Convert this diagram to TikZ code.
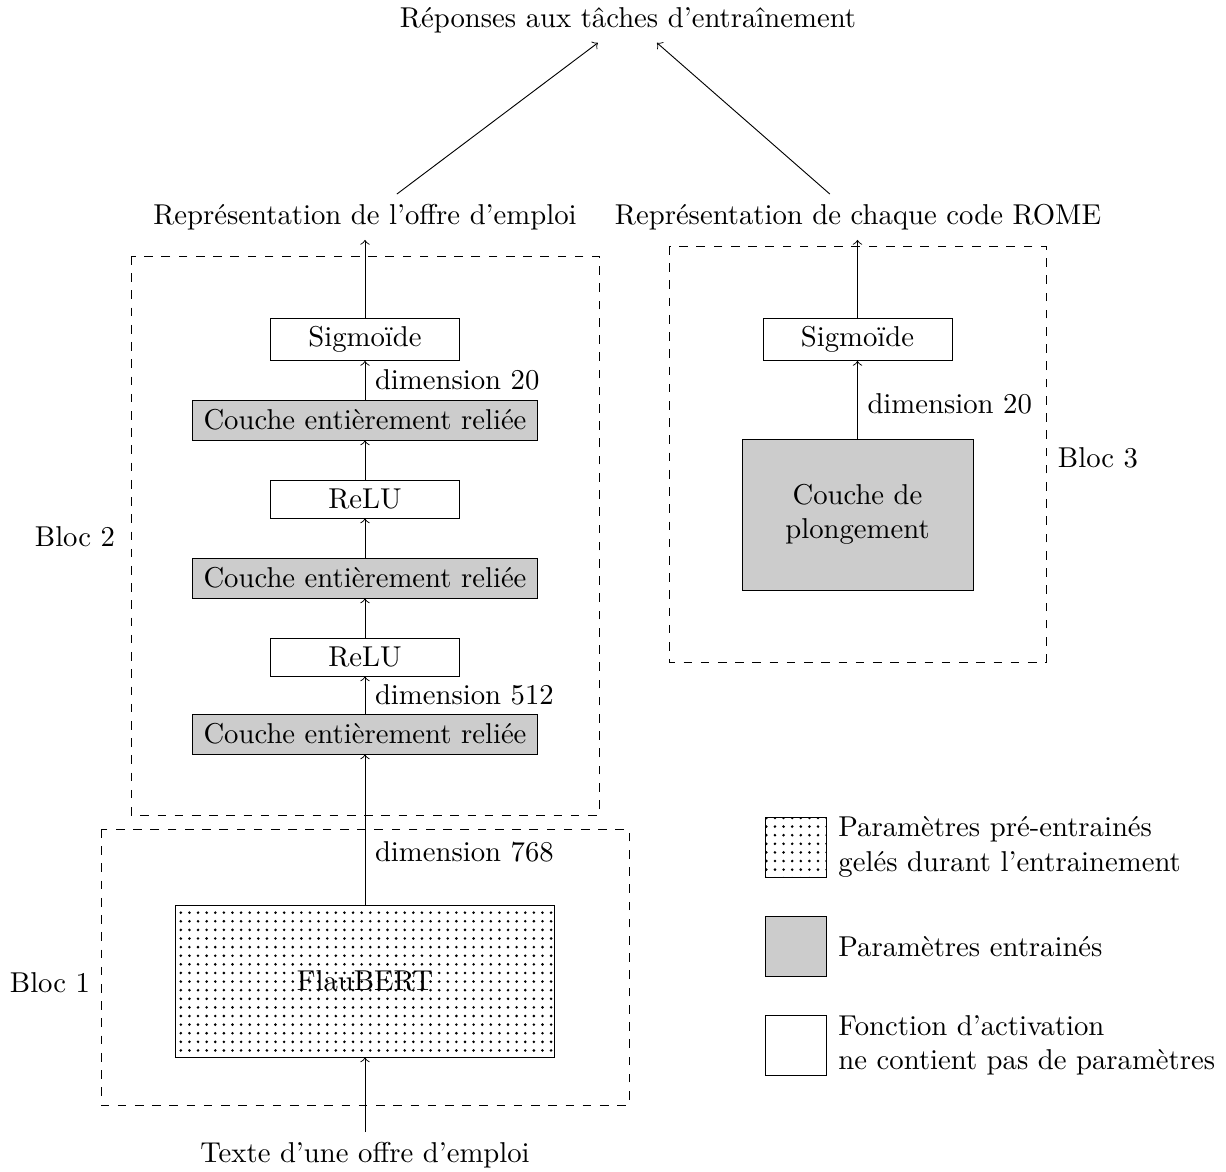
\documentclass[tikz,border=0pt]{standalone}
\usetikzlibrary{patterns}
\def\pxu{0.3484pt}
\begin{document}
\begin{tikzpicture}[x=0.3484pt,y=-0.3484pt,>=to,line width=0.32pt,
  act/.style={draw, fill=white, inner sep=0, minimum width=189*\pxu, minimum height=42*\pxu},
  fc/.style={draw, fill=gray!40, inner sep=0, minimum width=345*\pxu, minimum height=40*\pxu},
  bloc/.style={draw, dashed},
  legbox/.style={draw, inner sep=0, minimum width=61*\pxu, minimum height=60*\pxu},
  legtxt/.style={anchor=west, align=left, inner sep=0}]
\useasboundingbox (0,0) rectangle (1226,1171);

% dashed blocks
\draw[bloc] (131,256) rectangle (599,815);
\draw[bloc] (101,829) rectangle (629,1105);
\draw[bloc] (669,246) rectangle (1046,662);
\node (b2) at (75,537) {Bloc 2};
\node (b1) at (50,983) {Bloc 1};
\node (b3) at (1098,458) {Bloc 3};

% texts
\node (title) at (628,20) {Réponses aux tâches d'entraînement};
\node (rep1) at (365,217) {Représentation de l'offre d'emploi};
\node (rep2) at (858,217) {Représentation de chaque code ROME};
\node (input) at (365,1155) {Texte d'une offre d'emploi};

% left stack
\node[act] (sig1) at (365,339.5) {Sigmoïde};
\node[fc] (fc1) at (365,420) {Couche entièrement reliée};
\node[act, minimum height=38*\pxu] (relu1) at (365,499) {ReLU};
\node[fc] (fc2) at (365,578) {Couche entièrement reliée};
\node[act, minimum height=38*\pxu] (relu2) at (365,657) {ReLU};
\node[fc] (fc3) at (365,734) {Couche entièrement reliée};
\node[draw, pattern=dots, inner sep=0, minimum width=379*\pxu, minimum height=152*\pxu] (flau) at (365,981) {};
\node (flaut) at (flau.center) {FlauBERT};

% right stack
\node[act] (sig2) at (857.5,339.5) {Sigmoïde};
\node[draw, fill=gray!40, inner sep=0, minimum width=231*\pxu, minimum height=151*\pxu, align=center] (emb) at (857.5,514.5) {Couche de\\plongement};

% arrows left
\draw[->] (input) -- (flau);
\draw[->] (flau) -- node[right, pos=0.35] {dimension 768} (fc3);
\draw[->] (fc3) -- node[right] {dimension 512} (relu2);
\draw[->] (relu2) -- (fc2);
\draw[->] (fc2) -- (relu1);
\draw[->] (relu1) -- (fc1);
\draw[->] (fc1) -- node[right] {dimension 20} (sig1);
\draw[->] (sig1) -- (rep1);

% arrows right
\draw[->] (emb) -- node[right, pos=0.45] {dimension 20} (sig2);
\draw[->] (sig2) -- (sig2 |- rep2.south);

% top arrows
\draw[->] ([xshift=11.1pt]rep1.north) -- ([xshift=-10.5pt]title.south);
\draw[->] ([xshift=-9.8pt]rep2.north) -- ([xshift=10.1pt]title.south);

% legend
\node[legbox, pattern=dots] (l1) at (795.5,847) {};
\node[legbox, fill=gray!40] (l2) at (795.5,946.5) {};
\node[legbox] (l3) at (795.5,1045.5) {};
\node[legtxt] (t1) at (838,847) {Paramètres pré-entrainés\\gelés durant l'entrainement};
\node[legtxt] (t2) at (838,946.5) {Paramètres entrainés};
\node[legtxt] (t3) at (838,1045.5) {Fonction d'activation\\ne contient pas de paramètres};
\end{tikzpicture}
\end{document}
